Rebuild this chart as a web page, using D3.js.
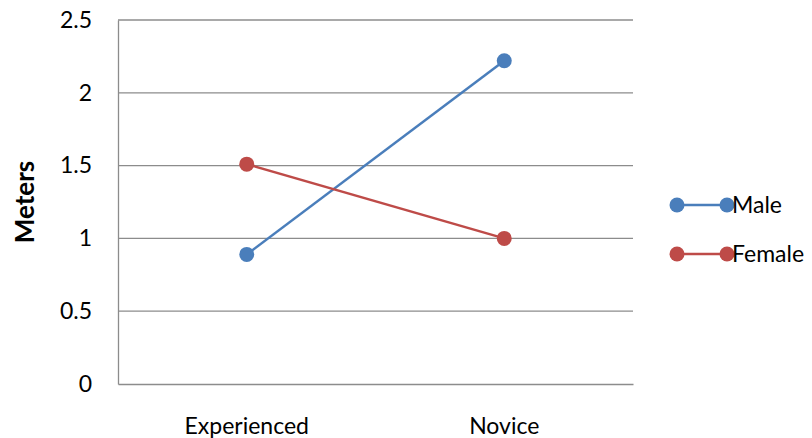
<!DOCTYPE html>
<html>
<head>
<meta charset="utf-8">
<script src="https://cdn.jsdelivr.net/npm/d3@7"></script>
<style>
  body { margin: 0; background: #fff; }
  text { font-family: Lato, "Open Sans", sans-serif; fill: #000; }
</style>
</head>
<body>
<svg width="812" height="438"></svg>
<script>
const categories = ['Experienced', 'Novice'];
const seriesNames = ['Male', 'Female'];
const maleValues = [0.89, 2.22];
const femaleValues = [1.51, 1.0];
const yTicks = [0, 0.5, 1, 1.5, 2, 2.5];
const colors = ['#4a7ebb', '#be4b48'];

const svg = d3.select('svg');
const margin = { left: 118, top: 20, right: 179, bottom: 54 };
const W = +svg.attr('width'), H = +svg.attr('height');
const plotW = W - margin.left - margin.right;
const plotH = H - margin.top - margin.bottom;

const x = d3.scaleBand().domain(categories).range([0, plotW]);
const y = d3.scaleLinear().domain([0, 2.5]).range([plotH, 0]);

const g = svg.append('g').attr('transform', `translate(${margin.left},${margin.top})`);

// gridlines
g.selectAll('.grid').data(yTicks.filter(d => d > 0)).enter().append('line')
    .attr('x1', 0).attr('x2', plotW)
    .attr('y1', d => y(d)).attr('y2', d => y(d))
    .attr('stroke', '#8c8c8c').attr('stroke-width', 1.3)

// y axis
const yAxis = g.append('g').call(d3.axisLeft(y).tickValues(yTicks).tickSize(0).tickPadding(26)
    .tickFormat(d3.format('')));
yAxis.select('.domain').attr('stroke', '#8c8c8c').attr('stroke-width', 1.3);
yAxis.selectAll('text').attr('font-size', 23).attr('font-family', 'Lato, sans-serif');

// x axis
const xAxis = g.append('g').attr('transform', `translate(0,${plotH})`)
    .call(d3.axisBottom(x).tickSize(0).tickPadding(34));
xAxis.select('.domain').attr('stroke', '#8c8c8c').attr('stroke-width', 1.3);
xAxis.selectAll('text').attr('font-size', 23).attr('font-family', 'Lato, sans-serif');

// y title
svg.append('text')
    .attr('transform', `translate(34,${margin.top + plotH / 2}) rotate(-90)`)
    .attr('text-anchor', 'middle')
    .attr('font-size', 26).attr('font-weight', 'bold')
    .text('Meters');

// series
const allSeries = [maleValues, femaleValues];
const line = d3.line()
    .x((d, i) => x(categories[i]) + x.bandwidth() / 2)
    .y(d => y(d));

allSeries.forEach((vals, s) => {
    g.append('path')
        .attr('d', line(vals))
        .attr('fill', 'none')
        .attr('stroke', colors[s])
        .attr('stroke-width', 2.5);
    g.selectAll('.pt' + s).data(vals).enter().append('circle')
        .attr('cx', (d, i) => x(categories[i]) + x.bandwidth() / 2)
        .attr('cy', d => y(d))
        .attr('r', 7.5)
        .attr('fill', colors[s]);
});

// legend
const legend = svg.append('g').attr('transform', 'translate(677,205)');
seriesNames.forEach((name, s) => {
    const lg = legend.append('g').attr('transform', `translate(0,${s * 49})`);
    lg.append('line').attr('x1', 0).attr('x2', 50)
        .attr('stroke', colors[s]).attr('stroke-width', 2.5);
    lg.append('circle').attr('cx', 0).attr('r', 7.5).attr('fill', colors[s]);
    lg.append('circle').attr('cx', 50).attr('r', 7.5).attr('fill', colors[s]);
    lg.append('text').attr('x', 55).attr('y', 8)
        .attr('font-size', 23).text(name);
});
</script>
</body>
</html>
